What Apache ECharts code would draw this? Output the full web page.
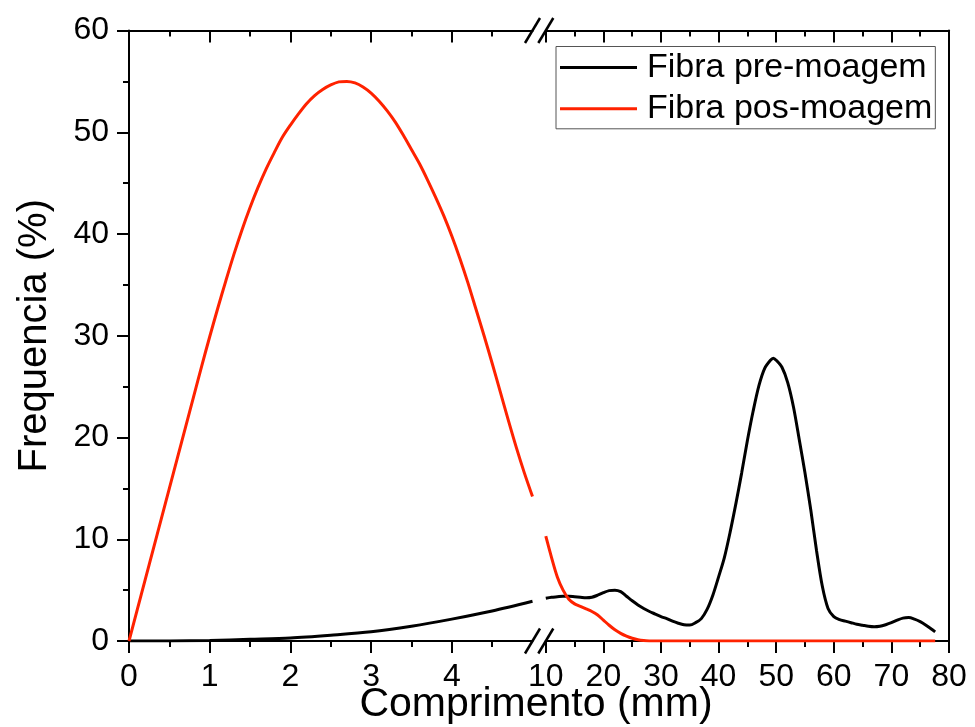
<!DOCTYPE html>
<html>
<head>
<meta charset="utf-8">
<script src="https://cdn.jsdelivr.net/npm/echarts@6/dist/echarts.min.js"></script>
<style>
  html, body { margin: 0; padding: 0; background: #fff; }
  #chart { width: 975px; height: 727px; }
</style>
</head>
<body>
<div id="chart"></div>
<script>
const FONT = '"Liberation Sans", Arial, Helvetica, sans-serif';

// Fibre length (mm) vs frequency (%), split into the short (0–5 mm) and long (10–80 mm) ranges
const preLenShort  = [0, 0.5, 1, 1.5, 2, 2.5, 3, 3.5, 4, 4.5, 5];
const preFreqShort = [0, 0.01, 0.05, 0.17, 0.3, 0.57, 0.9, 1.45, 2.15, 2.95, 3.9];

const preLenLong = [10, 11, 12, 13, 14, 15, 16, 17, 18, 19, 20, 21, 22, 23, 24, 25, 26, 27, 28, 29,
  30, 31, 32, 33, 34, 35, 36, 37, 38, 39, 40, 41, 42, 43, 44, 45, 46, 47, 48, 49, 49.5,
  50, 51, 52, 53, 54, 55, 56, 57, 58, 59, 60, 61, 62, 63, 64, 65, 66, 67, 68, 69,
  70, 71, 72, 73, 74, 75, 76, 77, 77.6];
const preFreqLong = [4.2, 4.3, 4.35, 4.4, 4.4, 4.35, 4.3, 4.25, 4.3, 4.5, 4.75, 4.95, 5.0, 4.85, 4.4, 3.95, 3.55, 3.2, 2.9, 2.65,
  2.4, 2.2, 1.95, 1.75, 1.6, 1.57, 1.8, 2.2, 3.1, 4.5, 6.3, 8.2, 10.7, 13.5, 16.5, 19.7, 22.6, 25.1, 26.8, 27.6, 27.8,
  27.6, 26.9, 25.4, 23.0, 19.8, 16.5, 12.9, 8.9, 5.4, 3.2, 2.4, 2.1, 1.95, 1.8, 1.65, 1.55, 1.45, 1.4, 1.45, 1.6,
  1.8, 2.05, 2.25, 2.3, 2.15, 1.9, 1.55, 1.15, 0.9];

const posLenShort = [0, 0.1, 0.2, 0.3, 0.4, 0.5, 0.6, 0.7, 0.8, 0.9, 1, 1.1, 1.2, 1.3, 1.4, 1.5, 1.6, 1.7, 1.8, 1.9,
  2, 2.1, 2.2, 2.3, 2.4, 2.5, 2.6, 2.7, 2.8, 2.9, 3, 3.1, 3.2, 3.3, 3.4, 3.5, 3.6, 3.7, 3.8, 3.9,
  4, 4.1, 4.2, 4.3, 4.4, 4.5, 4.6, 4.7, 4.8, 4.9, 5];
const posFreqShort = [0, 3.0, 6.0, 9.0, 12.0, 15.0, 18.0, 21.0, 24.0, 27.0, 29.9, 32.7, 35.4, 38.0, 40.4, 42.6, 44.6, 46.4, 48.0, 49.5,
  50.7, 51.8, 52.8, 53.6, 54.2, 54.65, 54.95, 55.0, 54.85, 54.45, 53.85, 53.05, 52.1, 51.0, 49.7, 48.3, 46.9, 45.3, 43.6, 41.8,
  39.8, 37.6, 35.2, 32.6, 30.0, 27.3, 24.5, 21.7, 19.0, 16.5, 14.2];

const posLenLong  = [10, 11, 12, 13, 14, 15, 16, 17, 18, 19, 20, 21, 22, 23, 24, 25, 26, 27, 28, 29, 30, 40, 50, 60, 70, 77.6];
const posFreqLong = [10.3, 8.2, 6.3, 5.0, 4.1, 3.65, 3.4, 3.15, 2.9, 2.55, 2.05, 1.55, 1.1, 0.75, 0.48, 0.27, 0.12, 0.04, 0.01, 0, 0, 0, 0, 0, 0, 0];

// Axis tick labels
const shortTicks = [0, 1, 2, 3, 4];
const longTicks  = [10, 20, 30, 40, 50, 60, 70, 80];

const SERIES_PRE = 'Fibra pre-moagem';
const SERIES_POS = 'Fibra pos-moagem';
const BLACK = '#000000';
const RED = '#ff2200';

const pairs = (xs, ys) => xs.map((x, i) => [x, ys[i]]);

// plot layout (px)
const PLOT_TOP = 30.5, PLOT_H = 610.5;
const SHORT_LEFT = 129, SHORT_W = 403.5;
const LONG_LEFT = 545.8, LONG_W = 403.2;

const lineStyleAxis = { color: BLACK, width: 2 };

function bottomAxis(grid, min, max, interval, ticks) {
  return {
    type: 'value', gridIndex: grid, position: 'bottom', min, max, interval,
    axisLine: { show: true, onZero: false, lineStyle: lineStyleAxis },
    axisTick: { show: true, inside: false, length: 12, lineStyle: lineStyleAxis, customValues: ticks },
    minorTick: { show: true, splitNumber: 2, length: 6, lineStyle: lineStyleAxis },
    axisLabel: { show: true, customValues: ticks, margin: 20, color: BLACK, fontFamily: FONT, fontSize: 32 },
    splitLine: { show: false }
  };
}
function topAxis(grid, min, max, interval, ticks) {
  return {
    type: 'value', gridIndex: grid, position: 'top', min, max, interval,
    axisLine: { show: true, onZero: false, lineStyle: lineStyleAxis },
    axisTick: { show: true, inside: true, length: 12, lineStyle: lineStyleAxis, customValues: ticks },
    minorTick: { show: true, splitNumber: 2, length: 6, lineStyle: lineStyleAxis },
    axisLabel: { show: false },
    splitLine: { show: false }
  };
}

function curve(name, xIdx, xs, ys, color) {
  return {
    name, type: 'line', xAxisIndex: xIdx, yAxisIndex: xIdx,
    data: pairs(xs, ys), smooth: 0.3, symbol: 'none',
    lineStyle: { color, width: 3 }, itemStyle: { color }
  };
}

const chart = echarts.init(document.getElementById('chart'), null, { renderer: 'canvas' });

chart.setOption({
  animation: false,
  backgroundColor: '#ffffff',
  textStyle: { fontFamily: FONT },
  grid: [
    { left: SHORT_LEFT, top: PLOT_TOP, width: SHORT_W, height: PLOT_H, outerBoundsMode: 'none' },
    { left: LONG_LEFT, top: PLOT_TOP, width: LONG_W, height: PLOT_H, outerBoundsMode: 'none' }
  ],
  xAxis: [
    bottomAxis(0, 0, 5, 1, shortTicks),
    bottomAxis(1, 10, 80, 10, longTicks),
    topAxis(0, 0, 5, 1, shortTicks),
    topAxis(1, 10, 80, 10, longTicks)
  ],
  yAxis: [
    {
      type: 'value', gridIndex: 0, position: 'left', min: 0, max: 60, interval: 10,
      name: 'Frequencia (%)', nameLocation: 'middle', nameGap: 74, nameRotate: 90,
      nameTextStyle: { color: BLACK, fontFamily: FONT, fontSize: 40 },
      axisLine: { show: true, lineStyle: lineStyleAxis },
      axisTick: { show: true, inside: false, length: 12, lineStyle: lineStyleAxis },
      minorTick: { show: true, splitNumber: 2, length: 6, lineStyle: lineStyleAxis },
      axisLabel: { margin: 20, color: BLACK, fontFamily: FONT, fontSize: 32 },
      splitLine: { show: false }
    },
    {
      type: 'value', gridIndex: 1, position: 'right', min: 0, max: 60, interval: 10,
      axisLine: { show: true, lineStyle: lineStyleAxis },
      axisTick: { show: false },
      axisLabel: { show: false },
      splitLine: { show: false }
    }
  ],
  legend: {
    orient: 'vertical',
    left: 556, top: 46.5,
    padding: [4, 3, 3, 4],
    itemGap: 7.3,
    icon: 'rect',
    itemWidth: 77, itemHeight: 3,
    borderColor: '#555555', borderWidth: 1,
    backgroundColor: '#ffffff',
    textStyle: { color: BLACK, fontFamily: FONT, fontSize: 34, lineHeight: 34, padding: [0, 0, 0, 5] },
    data: [SERIES_PRE, SERIES_POS]
  },
  series: [
    curve(SERIES_PRE, 0, preLenShort, preFreqShort, BLACK),
    curve(SERIES_PRE, 1, preLenLong, preFreqLong, BLACK),
    curve(SERIES_POS, 0, posLenShort, posFreqShort, RED),
    curve(SERIES_POS, 1, posLenLong, posFreqLong, RED)
  ]
});

// Axis-break marks (//) at the joint between the two length ranges, top and bottom
const xEndShort = chart.convertToPixel({ xAxisIndex: 0 }, 5);
const xStartLong = chart.convertToPixel({ xAxisIndex: 1 }, 10);
const yBottom = chart.convertToPixel({ yAxisIndex: 0 }, 0);
const yTop = chart.convertToPixel({ yAxisIndex: 0 }, 60);

function slash(cx, cy) {
  return {
    type: 'line', silent: true, z: 100,
    shape: { x1: cx - 7.5, y1: cy + 12.5, x2: cx + 7.5, y2: cy - 12.5 },
    style: { stroke: BLACK, lineWidth: 2.5 }
  };
}

const xAxisName = {
  type: 'text', silent: true,
  x: (SHORT_LEFT + LONG_LEFT + LONG_W) / 2 - 3, y: 705,
  style: {
    text: 'Comprimento (mm)', fill: BLACK, font: '41px ' + FONT,
    textAlign: 'center', textVerticalAlign: 'middle'
  }
};

chart.setOption({
  graphic: [
    slash(xEndShort, yBottom), slash(xStartLong, yBottom),
    slash(xEndShort, yTop), slash(xStartLong, yTop),
    xAxisName
  ]
});
</script>
</body>
</html>
